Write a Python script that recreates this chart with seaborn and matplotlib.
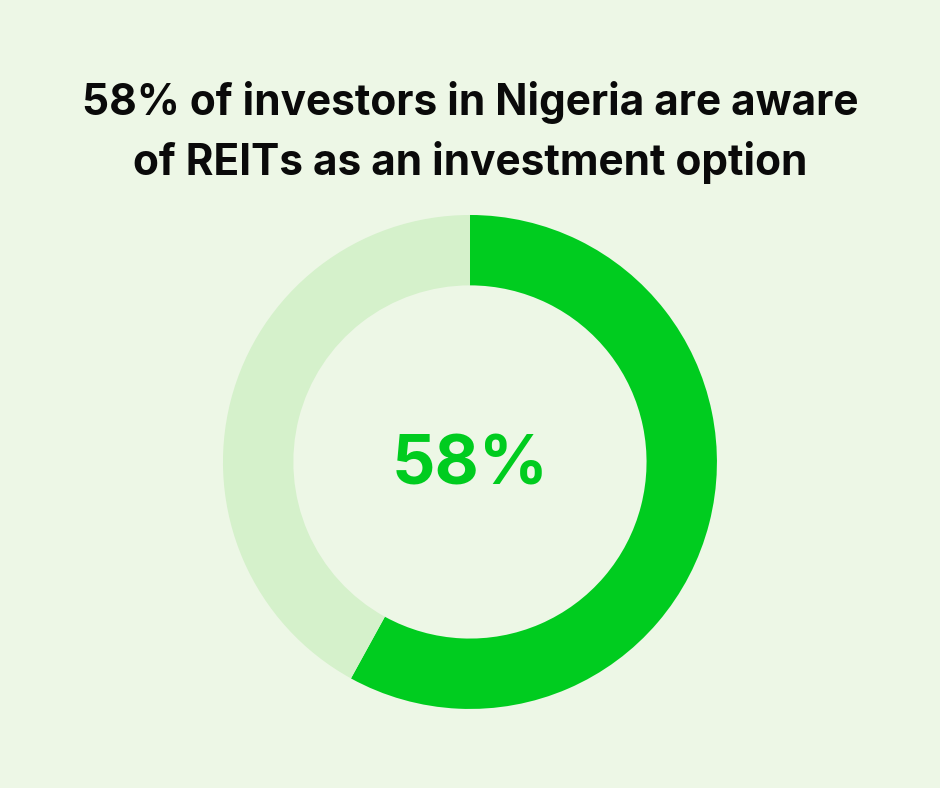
import matplotlib.pyplot as plt
import seaborn as sns

# Survey share
labels = ["Aware of REITs", "Not aware"]
shares = [58, 42]
colors = ["#00cc1f", "#d5f1cb"]
bg = "#edf7e6"

title = "58% of investors in Nigeria are aware\nof REITs as an investment option"


def main():
  sns.set_style("white")
  plt.rcParams["font.family"] = ["Inter", "DejaVu Sans"]

  fig = plt.figure(figsize=(9.4, 7.88), dpi=100, facecolor=bg)
  ax = fig.add_axes([0.2372, 0.1003, 0.5255, 0.6269])
  ax.set_facecolor(bg)

  ax.pie(
      shares,
      colors=colors,
      startangle=90,
      counterclock=False,
      radius=1.0,
      wedgeprops=dict(width=0.285, linewidth=0),
  )
  ax.set_xlim(-1, 1)
  ax.set_ylim(-1, 1)
  ax.set_aspect("equal")
  ax.axis("off")

  ax.text(0, -0.02, f"{shares[0]}%", ha="center", va="center",
          fontsize=49, fontweight="bold", color=colors[0])

  fig.text(0.5, 0.832, title, ha="center", va="center", fontsize=30.5,
           fontweight="bold", color="#0a0a0a", linespacing=1.5)

  fig.savefig("out.png", dpi=100, facecolor=bg)
  plt.close(fig)


if __name__ == "__main__":
  main()
